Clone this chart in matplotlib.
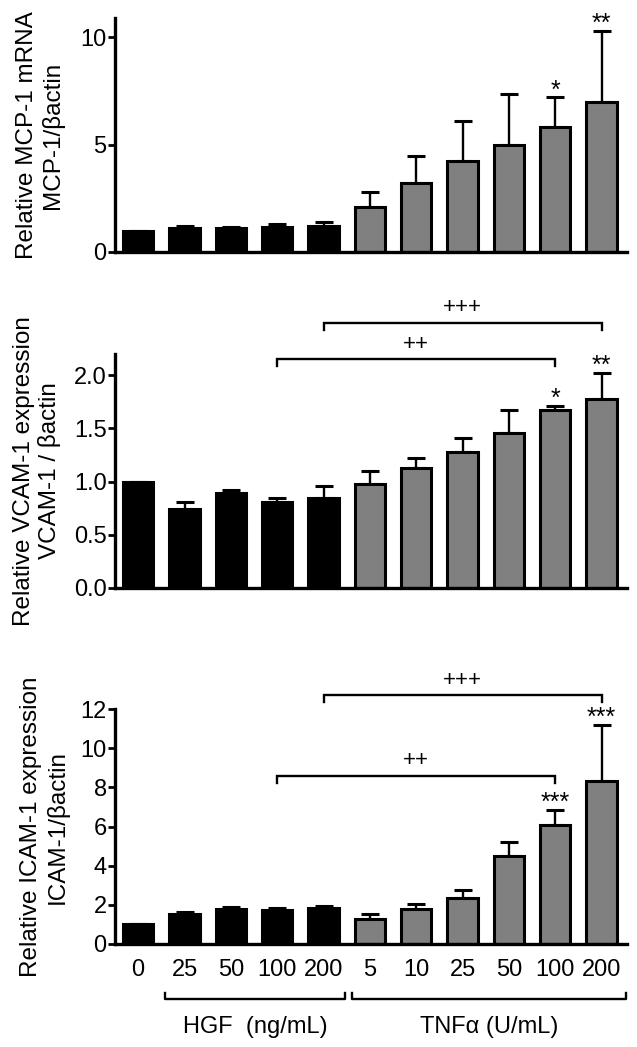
import matplotlib
matplotlib.use("Agg")
import matplotlib.pyplot as plt
import matplotlib.transforms as mtransforms
import numpy as np

plt.rcParams['font.family'] = ['Liberation Sans', 'DejaVu Sans']

# ---------------- data ----------------
dose_labels = ["0", "25", "50", "100", "200", "5", "10", "25", "50", "100", "200"]
groups = ["ctrl", "HGF", "HGF", "HGF", "HGF", "TNF", "TNF", "TNF", "TNF", "TNF", "TNF"]

mcp1_mean = [1.0, 1.1, 1.1, 1.15, 1.2, 2.1, 3.2, 4.25, 5.0, 5.8, 7.0]
mcp1_err_top = [1.0, 1.22, 1.17, 1.3, 1.38, 2.8, 4.45, 6.1, 7.35, 7.2, 10.3]
mcp1_stars = {9: "*", 10: "**"}

vcam1_mean = [1.0, 0.74, 0.89, 0.81, 0.85, 0.98, 1.13, 1.28, 1.46, 1.67, 1.78]
vcam1_err_top = [1.0, 0.81, 0.92, 0.85, 0.955, 1.10, 1.22, 1.41, 1.67, 1.71, 2.02]
vcam1_stars = {9: "*", 10: "**"}

icam1_mean = [1.0, 1.55, 1.8, 1.75, 1.85, 1.3, 1.8, 2.35, 4.5, 6.1, 8.3]
icam1_err_top = [1.0, 1.65, 1.87, 1.85, 1.96, 1.55, 2.05, 2.75, 5.2, 6.85, 11.2]
icam1_stars = {9: "***", 10: "***"}

# brackets: (from_bar, to_bar, y, label)
vcam1_brackets = [(4, 10, 2.49, "+++"), (3, 9, 2.15, "++")]
icam1_brackets = [(4, 10, 12.7, "+++"), (3, 9, 8.6, "++")]

panels = [
    dict(mean=mcp1_mean, err=mcp1_err_top, stars=mcp1_stars, brackets=[],
         ylim=10.9, yticks=[0, 5, 10], yticklabels=["0", "5", "10"],
         ylabel="Relative MCP-1 mRNA\nMCP-1/\u03b2actin", px=(18, 252), labx=40),
    dict(mean=vcam1_mean, err=vcam1_err_top, stars=vcam1_stars, brackets=vcam1_brackets,
         ylim=2.2, yticks=[0, 0.5, 1.0, 1.5, 2.0],
         yticklabels=["0.0", "0.5", "1.0", "1.5", "2.0"],
         ylabel="Relative VCAM-1 expression\nVCAM-1 / \u03b2actin", px=(354, 588), labx=37),
    dict(mean=icam1_mean, err=icam1_err_top, stars=icam1_stars, brackets=icam1_brackets,
         ylim=12, yticks=[0, 2, 4, 6, 8, 10, 12],
         yticklabels=["0", "2", "4", "6", "8", "10", "12"],
         ylabel="Relative ICAM-1 expression\nICAM-1/\u03b2actin", px=(709, 944), labx=44),
]

W, H = 637, 1047
fig = plt.figure(figsize=(W / 100, H / 100), dpi=100)

colors = ["black" if g in ("ctrl", "HGF") else "#808080" for g in groups]
x = np.arange(len(dose_labels))

axes = []
for i, p in enumerate(panels):
    top, bot = p["px"]
    left, right = 115, 627
    ax = fig.add_axes([left / W, 1 - bot / H, (right - left) / W, (bot - top) / H])
    axes.append(ax)
    mean = np.array(p["mean"])
    err = np.array(p["err"]) - mean
    ax.errorbar(x, mean, yerr=[np.zeros_like(err), err], fmt="none",
                ecolor="black", elinewidth=1.7, capsize=6.3, capthick=2.2, zorder=1)
    ax.bar(x, mean, width=0.65, color=colors, edgecolor="black", linewidth=2.2, zorder=2)
    ax.set_xlim(-0.5, 10.55)
    ax.set_ylim(0, p["ylim"])
    ax.set_yticks(p["yticks"])
    ax.set_yticklabels(p["yticklabels"])
    for s in ["top", "right"]:
        ax.spines[s].set_visible(False)
    for s in ["left", "bottom"]:
        ax.spines[s].set_linewidth(2.4)
    ax.tick_params(axis="y", length=5, width=2.0, labelsize=17, pad=1)
    if i < 2:
        ax.set_xticks([])
    else:
        ax.set_xticks(x)
        ax.set_xticklabels(dose_labels)
        ax.tick_params(axis="x", length=0, labelsize=17, pad=11)
    # stars
    for k, s in p["stars"].items():
        ax.text(x[k], p["err"][k] + 0.03 * p["ylim"], s, ha="center", va="center",
                fontsize=18, clip_on=False)
    # brackets
    drop = 0.03 * p["ylim"]
    for a, b, yb, lab in p["brackets"]:
        ax.plot([x[a], x[a], x[b], x[b]], [yb - drop, yb, yb, yb - drop], color="black",
                lw=1.7, clip_on=False, solid_joinstyle="miter")
        ax.text((x[a] + x[b]) / 2, yb + 0.065 * p["ylim"], lab, ha="center", va="center",
                fontsize=16, clip_on=False)
    # y label
    fig.text(p["labx"] / W, 1 - ((top + bot) / 2) / H, p["ylabel"], rotation=90,
             ha="center", va="center", multialignment="center", fontsize=17.5,
             linespacing=1.2)

# group brackets under bottom panel
ax = axes[2]
trans = mtransforms.blended_transform_factory(ax.transData, ax.transAxes)
group_ranges = [(0.58, 4.47, "HGF  (ng/mL)"), (4.62, 10.52, "TNF\u03b1 (U/mL)")]
yb = -0.234
tick = 0.025
for a, b, lab in group_ranges:
    ax.plot([a, a, b, b], [yb + tick, yb, yb, yb + tick], color="black", lw=1.7,
            transform=trans, clip_on=False)
    ax.text((a + b) / 2, -0.355, lab, ha="center", va="center", fontsize=17,
            transform=trans)

fig.savefig("out.png", dpi=100)
